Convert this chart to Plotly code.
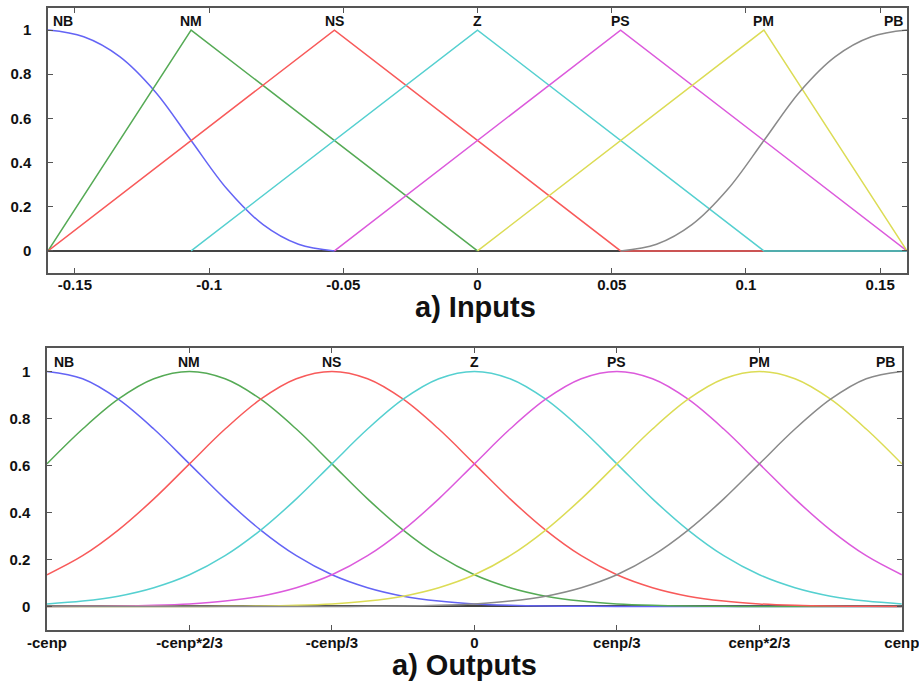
import plotly.graph_objects as go
from plotly.subplots import make_subplots

# ---------------- data ----------------
mf_names = ["NB", "NM", "NS", "Z", "PS", "PM", "PB"]
mf_colors = ["#6464f5", "#55aa55", "#f85a5a", "#55d0d0", "#dc5adc", "#dcdc55", "#8a8a8a"]

# Inputs (top) – membership function vertices
in_NB_x = [-0.16, -0.1467, -0.1333, -0.12, -0.1067, -0.0933, -0.08, -0.0667, -0.0533]
in_NB_y = [1.0, 0.97, 0.88, 0.72, 0.5, 0.28, 0.12, 0.03, 0.0]
in_NM_x = [-0.16, -0.1067, 0.0]
in_NM_y = [0.0, 1.0, 0.0]
in_NS_x = [-0.16, -0.0533, 0.0533, 0.1067]
in_NS_y = [0.0, 1.0, 0.0, 0.0]
in_Z_x = [-0.1067, 0.0, 0.1067, 0.16]
in_Z_y = [0.0, 1.0, 0.0, 0.0]
in_PS_x = [-0.0533, 0.0533, 0.16]
in_PS_y = [0.0, 1.0, 0.0]
in_PM_x = [0.0, 0.1067, 0.16]
in_PM_y = [0.0, 1.0, 0.0]
in_PB_x = [0.0533, 0.0667, 0.08, 0.0933, 0.1067, 0.12, 0.1333, 0.1467, 0.16]
in_PB_y = [0.0, 0.03, 0.12, 0.28, 0.5, 0.72, 0.88, 0.97, 1.0]

in_tick_vals = [-0.15, -0.1, -0.05, 0, 0.05, 0.1, 0.15]
in_tick_text = ["-0.15", "-0.1", "-0.05", "0", "0.05", "0.1", "0.15"]

out_centers = [-1.0, -2 / 3, -1 / 3, 0.0, 1 / 3, 2 / 3, 1.0]
out_profile_half = [1.0, 0.969, 0.882, 0.755, 0.607, 0.458, 0.325, 0.216, 0.135,
                    0.080, 0.044, 0.023, 0.011, 0.005, 0.002, 0.001, 0.0, 0.0,
                    0.0, 0.0, 0.0, 0.0, 0.0, 0.0, 0.0]
out_step = 1 / 12

out_tick_vals = [-1.0, -2 / 3, -1 / 3, 0.0, 1 / 3, 2 / 3, 1.0]
out_tick_text = ["-cenp", "-cenp*2/3", "-cenp/3", "0", "cenp/3", "cenp*2/3", "cenp"]

y_tick_vals = [0, 0.2, 0.4, 0.6, 0.8, 1]
y_tick_text = ["0", "0.2", "0.4", "0.6", "0.8", "1"]

# ---------------- figure ----------------
fig = make_subplots(rows=2, cols=1)

in_x = [in_NB_x, in_NM_x, in_NS_x, in_Z_x, in_PS_x, in_PM_x, in_PB_x]
in_y = [in_NB_y, in_NM_y, in_NS_y, in_Z_y, in_PS_y, in_PM_y, in_PB_y]
for i, name in enumerate(mf_names):
    shape = "spline" if name in ("NB", "PB") else "linear"
    fig.add_trace(go.Scatter(x=in_x[i], y=in_y[i], mode="lines", name=name,
                             line=dict(color=mf_colors[i], width=1.5, shape=shape),
                             showlegend=False), row=1, col=1)

n_half = len(out_profile_half) - 1
offsets = [k * out_step for k in range(-n_half, n_half + 1)]
profile = [out_profile_half[abs(k)] for k in range(-n_half, n_half + 1)]
for i, name in enumerate(mf_names):
    xs, ys = [], []
    for o, v in zip(offsets, profile):
        xv = out_centers[i] + o
        if -1.0 - 1e-9 <= xv <= 1.0 + 1e-9:
            xs.append(xv)
            ys.append(v)
    fig.add_trace(go.Scatter(x=xs, y=ys, mode="lines", name=name,
                             line=dict(color=mf_colors[i], width=1.5, shape="spline"),
                             showlegend=False), row=2, col=1)

tickfont = dict(family="Liberation Sans, Arial, sans-serif", size=15, color="#111", weight="bold")
axis_common = dict(showline=True, linecolor="#555", linewidth=1.5, mirror="ticks",
                   ticks="inside", ticklen=5, tickcolor="#555", tickwidth=1.2,
                   showgrid=False, tickfont=tickfont, automargin=False,
                   ticklabeloverflow="allow")

fig.update_xaxes(range=[-0.16, 0.16], tickvals=in_tick_vals, ticktext=in_tick_text,
                 domain=[0.0012, 1.0], zeroline=False, ticklabelstandoff=-3,
                 row=1, col=1, **axis_common)
fig.update_xaxes(range=[-1, 1], tickvals=out_tick_vals, ticktext=out_tick_text,
                 domain=[0.0, 0.994], zeroline=False, ticklabelstandoff=-2,
                 row=2, col=1, **axis_common)
fig.update_yaxes(range=[-0.1, 1.1], tickvals=y_tick_vals, ticktext=y_tick_text,
                 domain=[0.574, 1.0], zeroline=True, zerolinecolor="#444", zerolinewidth=1.5,
                 ticklabelstandoff=12, row=1, col=1, **axis_common)
fig.update_yaxes(range=[-0.1, 1.1], tickvals=y_tick_vals, ticktext=y_tick_text,
                 domain=[0.0, 0.4534], zeroline=True, zerolinecolor="#444", zerolinewidth=1.5,
                 ticklabelstandoff=12, row=2, col=1, **axis_common)

labfont = dict(family="Liberation Sans, Arial, sans-serif", size=14, color="#111", weight="bold")
in_peaks = [-0.16, -0.1067, -0.0533, 0.0, 0.0533, 0.1067, 0.16]
annotations = []
for i, name in enumerate(mf_names):
    if i == 0:
        xa, xs_ = "left", 3
    elif i == len(mf_names) - 1:
        xa, xs_ = "right", -2
    else:
        xa, xs_ = "center", 0
    annotations.append(dict(x=in_peaks[i], y=1.04, xref="x", yref="y", text=name,
                            showarrow=False, xanchor=xa, yanchor="middle",
                            xshift=xs_, font=labfont))
    if i == 0:
        xs2 = 5
    elif i == len(mf_names) - 1:
        xs2 = -5
    else:
        xs2 = 0
    annotations.append(dict(x=out_centers[i], y=1.04, xref="x2", yref="y2", text=name,
                            showarrow=False, xanchor=xa, yanchor="middle",
                            xshift=xs2, font=labfont))

titlefont = dict(family="Liberation Sans, Arial, sans-serif", size=29, color="#111", weight="bold")
annotations.append(dict(x=0.4988, y=0.5185, xref="paper", yref="paper", text="a) Inputs",
                        showarrow=False, xanchor="center", yanchor="middle", font=titlefont))
annotations.append(dict(x=0.486, y=-0.0563, xref="paper", yref="paper", text="a) Outputs",
                        showarrow=False, xanchor="center", yanchor="middle", font=titlefont))

fig.update_layout(width=919, height=684, margin=dict(l=47, r=12, t=8, b=54, autoexpand=False),
                  paper_bgcolor="white", plot_bgcolor="white",
                  annotations=annotations, showlegend=False)

fig.write_html("out.html", config={"displayModeBar": False},
               post_script="document.body.style.margin='0';document.body.style.padding='0';")
